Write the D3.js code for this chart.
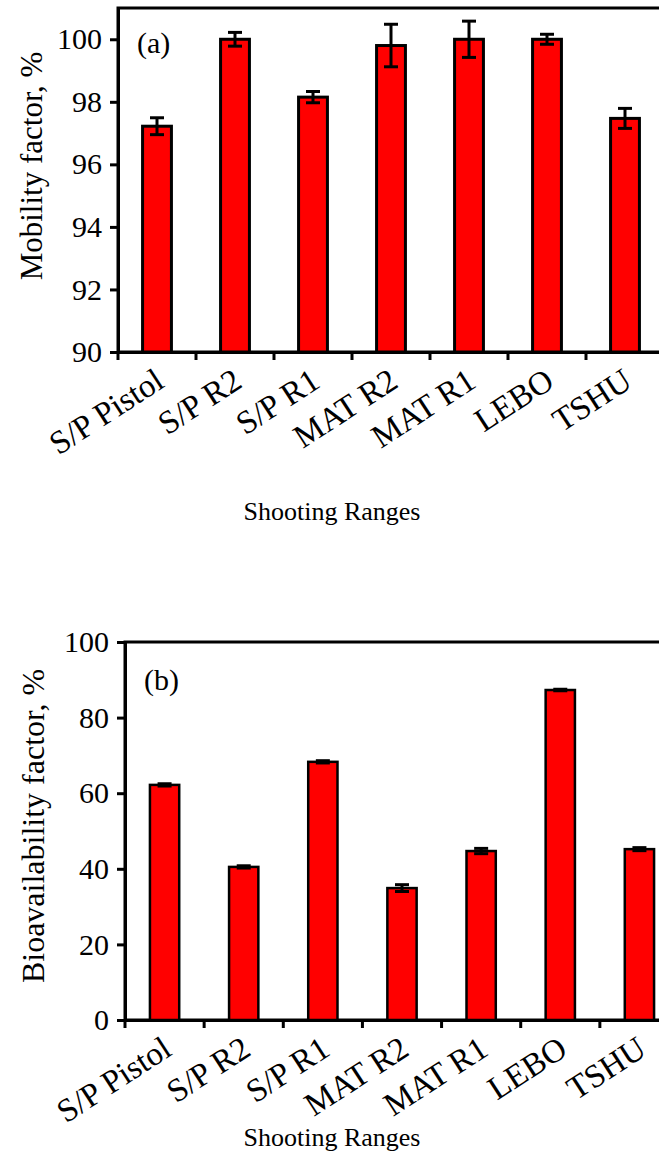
<!DOCTYPE html>
<html>
<head>
<meta charset="utf-8">
<script src="https://cdn.jsdelivr.net/npm/d3@7"></script>
<style>
  body { margin: 0; background: #fff; }
  svg { display: block; }
  svg text { font-family: "Liberation Serif", "Times New Roman", serif; }
</style>
</head>
<body>
<div id="chart"></div>
<script>
// data
const ranges = ["S/P Pistol", "S/P R2", "S/P R1", "MAT R2", "MAT R1", "LEBO", "TSHU"];
const mobility = [97.22, 100.0, 98.15, 99.8, 100.0, 100.0, 97.47];
const mobilityErr = [0.27, 0.22, 0.18, 0.68, 0.58, 0.16, 0.32];
const bioavail = [62.2, 40.5, 68.3, 34.9, 44.7, 87.3, 45.2];
const bioavailErr = [0.3, 0.3, 0.3, 0.9, 0.7, 0.2, 0.4];
const mobilityTicks = [90, 92, 94, 96, 98, 100];
const bioavailTicks = [0, 20, 40, 60, 80, 100];

const W = 659, H = 1163;
const svg = d3.select("#chart").append("svg")
    .attr("width", W)
    .attr("height", H);

function drawPanel(opt) {
    const x = d3.scaleBand()
        .domain(ranges)
        .range([opt.left, opt.right])
        .padding(0);

    const y = d3.scaleLinear()
        .domain(opt.domain)
        .range([opt.bottom, opt.top]);

    const g = svg.append("g");

    // frame (right edge falls outside the window)
    g.append("rect")
        .attr("x", opt.left)
        .attr("y", opt.top)
        .attr("width", opt.right - opt.left)
        .attr("height", opt.bottom - opt.top)
        .attr("fill", "none")
        .attr("stroke", "#000")
        .attr("stroke-width", 3);

    const bw = x.bandwidth() * 0.37;

    // bars
    g.selectAll("rect.bar")
        .data(opt.values)
        .enter().append("rect")
        .attr("class", "bar")
        .attr("x", (d, i) => x(ranges[i]) + (x.bandwidth() - bw) / 2)
        .attr("y", d => y(d))
        .attr("width", bw)
        .attr("height", d => opt.bottom - y(d))
        .attr("fill", "#ff0000")
        .attr("stroke", "#000")
        .attr("stroke-width", opt.barStroke);

    // error bars
    const cap = 7;
    opt.values.forEach((v, i) => {
        const cx = x(ranges[i]) + x.bandwidth() / 2;
        const e = opt.errors[i];
        g.append("line")
            .attr("x1", cx).attr("x2", cx)
            .attr("y1", y(v - e)).attr("y2", y(v + e))
            .attr("stroke", "#000").attr("stroke-width", 3);
        [v - e, v + e].forEach(t => {
            g.append("line")
                .attr("x1", cx - cap).attr("x2", cx + cap)
                .attr("y1", y(t)).attr("y2", y(t))
                .attr("stroke", "#000").attr("stroke-width", 3);
        });
    });

    // y axis
    const yAxis = g.append("g")
        .attr("transform", `translate(${opt.left},0)`)
        .call(d3.axisLeft(y).tickValues(opt.ticks).tickSize(8).tickSizeOuter(0).tickPadding(8));
    yAxis.select(".domain").attr("stroke-width", 3);
    yAxis.selectAll(".tick line").attr("stroke-width", 3);
    yAxis.selectAll(".tick text")
        .attr("fill", "#000")
        .style("font-family", "'Liberation Serif', 'Times New Roman', serif")
        .style("font-size", "30px");

    // x axis, ticks sit between categories
    const xAxis = g.append("g")
        .attr("transform", `translate(0,${opt.bottom})`)
        .call(d3.axisBottom(x).tickSize(8).tickSizeOuter(0).tickFormat(""));
    xAxis.select(".domain").attr("stroke-width", 3);
    xAxis.selectAll(".tick line")
        .attr("stroke-width", 3)
        .attr("transform", `translate(${-x.bandwidth() / 2},0)`);

    // rotated category labels
    g.selectAll("text.cat")
        .data(ranges)
        .enter().append("text")
        .attr("class", "cat")
        .attr("transform", d => `translate(${x(d) + x.bandwidth() / 2 - 4},${opt.bottom + 14}) rotate(-33)`)
        .attr("dy", "0.72em")
        .attr("text-anchor", "end")
        .style("font-size", "33px")
        .text(d => d);

    // axis titles
    g.append("text")
        .attr("transform", `translate(${opt.titleX},${opt.titleY}) rotate(-90)`)
        .attr("text-anchor", "middle")
        .style("font-size", opt.titleSize + "px")
        .text(opt.yTitle);

    g.append("text")
        .attr("x", 332)
        .attr("y", opt.xTitleY)
        .attr("text-anchor", "middle")
        .style("font-size", "26px")
        .text("Shooting Ranges");

    g.append("text")
        .attr("x", opt.left + 19)
        .attr("y", opt.labelY)
        .style("font-size", "30px")
        .text(opt.label);
}

drawPanel({
    left: 118, right: 664, top: 8, bottom: 352,
    domain: [90, 101], ticks: mobilityTicks,
    values: mobility, errors: mobilityErr, barStroke: 3,
    yTitle: "Mobility factor, %", titleX: 42, titleY: 166, titleSize: 31,
    xTitleY: 520, label: "(a)", labelY: 53
});

drawPanel({
    left: 125, right: 679, top: 642, bottom: 1020,
    domain: [0, 100], ticks: bioavailTicks,
    values: bioavail, errors: bioavailErr, barStroke: 2.5,
    yTitle: "Bioavailability factor, %", titleX: 44, titleY: 826, titleSize: 32,
    xTitleY: 1146, label: "(b)", labelY: 690
});
</script>
</body>
</html>
